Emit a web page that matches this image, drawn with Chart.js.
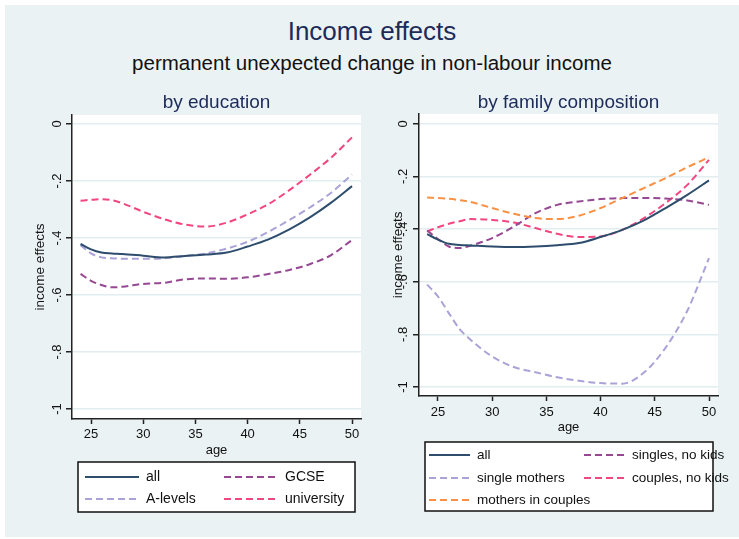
<!DOCTYPE html>
<html><head><meta charset="utf-8">
<script src="https://cdn.jsdelivr.net/npm/chart.js@4.4.1/dist/chart.umd.min.js"></script>
<style>
html,body{margin:0;padding:0;background:#fff;}
#page{position:relative;width:739px;height:539px;overflow:hidden;background:#fff;font-family:"Liberation Sans",Arial,sans-serif;}
#bg{position:absolute;left:5px;top:5px;right:0;bottom:2px;background:#eaf2f3;}
#t1{position:absolute;left:5px;right:0;top:16px;text-align:center;font-size:26px;line-height:30px;color:#1c2b5a;white-space:nowrap;}
#t2{position:absolute;left:5px;right:0;top:51px;text-align:center;font-size:20.5px;line-height:24px;color:#111;white-space:nowrap;}
canvas{position:absolute;top:0;}
#c1{left:0;}
#c2{left:370px;}
</style></head><body>
<div id="page">
<div id="bg"></div>
<div id="t1">Income effects</div>
<div id="t2">permanent unexpected change in non-labour income</div>
<canvas id="c1" width="370" height="539"></canvas>
<canvas id="c2" width="369" height="539"></canvas>
</div>
<script>
// ---- data ----
const ages = [24,25,26,27,28,30,32,34,36,38,40,42,44,46,48,50];

// by education
const eduAll      = [-0.421,-0.440,-0.451,-0.454,-0.456,-0.462,-0.468,-0.463,-0.458,-0.451,-0.430,-0.405,-0.370,-0.327,-0.276,-0.218];
const eduALevels  = [-0.425,-0.454,-0.468,-0.471,-0.473,-0.473,-0.471,-0.463,-0.454,-0.437,-0.413,-0.378,-0.337,-0.292,-0.241,-0.177];
const eduGCSE     = [-0.526,-0.550,-0.565,-0.573,-0.571,-0.561,-0.557,-0.545,-0.542,-0.543,-0.538,-0.526,-0.512,-0.491,-0.460,-0.407];
const eduUniv     = [-0.269,-0.266,-0.264,-0.267,-0.278,-0.308,-0.334,-0.353,-0.360,-0.346,-0.317,-0.281,-0.232,-0.177,-0.118,-0.047];

// by family composition
const famAll          = [-0.419,-0.440,-0.456,-0.460,-0.462,-0.466,-0.468,-0.466,-0.461,-0.453,-0.430,-0.403,-0.367,-0.320,-0.270,-0.215];
const famSingleMoth   = [-0.611,-0.656,-0.719,-0.780,-0.820,-0.884,-0.924,-0.944,-0.963,-0.976,-0.985,-0.987,-0.945,-0.850,-0.710,-0.510];
const famMothCouples  = [-0.280,-0.282,-0.285,-0.290,-0.297,-0.320,-0.342,-0.358,-0.362,-0.349,-0.320,-0.282,-0.244,-0.206,-0.165,-0.127];
const famSinglesNoK   = [-0.405,-0.438,-0.466,-0.472,-0.463,-0.434,-0.390,-0.339,-0.308,-0.295,-0.286,-0.282,-0.282,-0.284,-0.291,-0.308];
const famCouplesNoK   = [-0.409,-0.393,-0.380,-0.370,-0.362,-0.365,-0.375,-0.396,-0.418,-0.430,-0.428,-0.403,-0.358,-0.301,-0.232,-0.137];

const xTicks = [25,30,35,40,45,50];
const xTickLabels = ['25','30','35','40','45','50'];
const yTicks = [0,-0.2,-0.4,-0.6,-0.8,-1];
const yTickLabels = ['0','-.2','-.4','-.6','-.8','-1'];

// ---- styles ----
const C_NAVY = '#2e4d6d', C_LAV = '#aaa3d8', C_PURP = '#964893', C_PINK = '#f2467f', C_ORNG = '#fa9043';
const FONT = '"Liberation Sans", Arial, sans-serif';
Chart.defaults.font.family = FONT;

function pts(vals){ return ages.map((a,i)=>({x:a,y:vals[i]})); }
function ds(label, vals, color, dashed){
  return {label, data:pts(vals), borderColor:color, backgroundColor:color, borderWidth:2,
    borderDash: dashed ? [7,4] : [], pointRadius:0, fill:false, cubicInterpolationMode:'monotone'};
}

const plotBg = {
  id:'plotBg',
  beforeDraw(chart){
    const {ctx, chartArea:a} = chart;
    ctx.save(); ctx.fillStyle='#ffffff';
    ctx.fillRect(a.left, a.top, a.right-a.left, a.bottom-a.top);
    ctx.restore();
  }
};
const boxLegend = {
  id:'boxLegend',
  afterDraw(chart, args, o){
    const ctx = chart.ctx, d = chart.data.datasets;
    const [bx,by,bw,bh] = o.box;
    ctx.save();
    ctx.fillStyle='#ffffff'; ctx.fillRect(bx,by,bw,bh);
    ctx.font = o.fontSize + 'px ' + FONT;
    ctx.textBaseline='middle'; ctx.textAlign='left';
    o.layout.forEach((row,r)=>row.forEach((di,c)=>{
      const s = d[di], y = o.rowY[r], x0 = o.colX[c];
      ctx.beginPath(); ctx.setLineDash(s.borderDash||[]);
      ctx.strokeStyle = s.borderColor; ctx.lineWidth = s.borderWidth;
      ctx.moveTo(x0,y); ctx.lineTo(x0+o.sample,y); ctx.stroke();
      ctx.setLineDash([]);
      ctx.fillStyle='#111';
      ctx.fillText(s.label, x0+o.sample+o.gap, y);
    }));
    ctx.lineWidth=1.5; ctx.strokeStyle='#111'; ctx.strokeRect(bx,by,bw,bh);
    ctx.restore();
  }
};

function makeScales(p){
  return {
    x:{ type:'linear', min:p.xMin, max:p.xMax,
      afterBuildTicks:s=>{ s.ticks = xTicks.map(v=>({value:v})); },
      afterFit:s=>{ s.height = p.xH; },
      grid:{ drawOnChartArea:false, drawTicks:true, tickLength:5, tickColor:'#222', tickWidth:1.5 },
      border:{ display:true, color:'#222', width:1.5 },
      ticks:{ color:'#111', font:{size:13}, padding:p.xPad, maxRotation:0, autoSkip:false,
        callback:(v,i)=>xTickLabels[i] },
      title:{ display:true, text:'age', color:'#111', font:{size:13}, padding:{top:0,bottom:p.xTitlePb} }
    },
    y:{ type:'linear', min:p.yMin, max:p.yMax,
      afterBuildTicks:s=>{ s.ticks = yTicks.map(v=>({value:v})); },
      afterFit:s=>{ s.width = p.yW; },
      grid:{ color:'#e2edef', lineWidth:1.5, drawTicks:true, tickLength:6, tickColor:'#222', tickWidth:1.5 },
      border:{ display:true, color:'#222', width:1.5 },
      ticks:{ color:'#111', font:{size:13}, padding:p.yPad, minRotation:90, maxRotation:90, crossAlign:'center', autoSkip:false,
        callback:(v,i)=>yTickLabels[i] },
      title:{ display:true, text:'income effects', color:'#111', font:{size:13.5}, padding:{top:p.yTitlePt,bottom:0} }
    }
  };
}

new Chart(document.getElementById('c1'), {
  type:'line',
  data:{ datasets:[
    ds('all', eduAll, C_NAVY, false),
    ds('A-levels', eduALevels, C_LAV, true),
    ds('GCSE', eduGCSE, C_PURP, true),
    ds('university', eduUniv, C_PINK, true)
  ]},
  options:{
    responsive:false, animation:false, devicePixelRatio:1,
    layout:{ padding:{ left:0, right:9, top:0, bottom:80 } },
    scales: makeScales({xMin:23.18, xMax:50.86, yMin:-1.035, yMax:0.0316, xH:40, xPad:3, xTitlePb:1.2, yW:72, yPad:1, yTitlePt:32}),
    plugins:{
      legend:{display:false}, tooltip:{enabled:false},
      title:{ display:true, text:'by education', fullSize:false, color:'#1c2b5a', font:{size:19, weight:'normal'}, padding:{top:91,bottom:1.2} },
      boxLegend:{ box:[78,462,277,50], rowY:[477,499], colX:[85,224], sample:54, gap:7, fontSize:14, layout:[[0,2],[1,3]] }
    }
  },
  plugins:[plotBg, boxLegend]
});

new Chart(document.getElementById('c2'), {
  type:'line',
  data:{ datasets:[
    ds('all', famAll, C_NAVY, false),
    ds('single mothers', famSingleMoth, C_LAV, true),
    ds('mothers in couples', famMothCouples, C_ORNG, true),
    ds('singles, no kids', famSinglesNoK, C_PURP, true),
    ds('couples, no kids', famCouplesNoK, C_PINK, true)
  ]},
  options:{
    responsive:false, animation:false, devicePixelRatio:1,
    layout:{ padding:{ left:0, right:21, top:0, bottom:103 } },
    scales: makeScales({xMin:23.25, xMax:50.83, yMin:-1.034, yMax:0.038, xH:40, xPad:4, xTitlePb:1.2, yW:49, yPad:2, yTitlePt:20}),
    plugins:{
      legend:{display:false}, tooltip:{enabled:false},
      title:{ display:true, text:'by family composition', fullSize:false, color:'#1c2b5a', font:{size:19, weight:'normal'}, padding:{top:91,bottom:0} },
      boxLegend:{ box:[55,442,288,69], rowY:[455,478,500], colX:[59,214], sample:41, gap:7, fontSize:13.5, layout:[[0,3],[1,4],[2]] }
    }
  },
  plugins:[plotBg, boxLegend]
});
</script>
</body></html>
